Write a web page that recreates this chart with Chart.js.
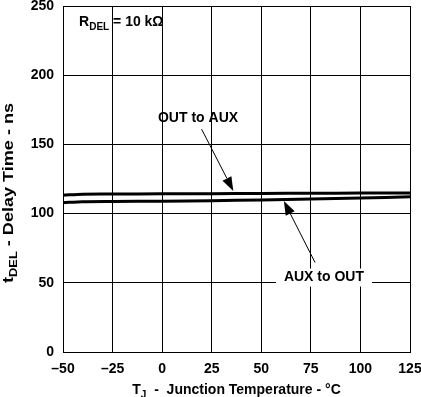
<!DOCTYPE html>
<html>
<head>
<meta charset="utf-8">
<script src="https://cdn.jsdelivr.net/npm/chart.js@4.4.0/dist/chart.umd.min.js"></script>
<style>
html,body{margin:0;padding:0;background:#fff;}
#wrap{width:421px;height:397px;position:relative;}
</style>
</head>
<body>
<div id="wrap"><canvas id="c" width="421" height="397"></canvas></div>
<script>
// ---- data ----
const temps = [-50, -40, -25, 0, 25, 50, 75, 100, 125];
const outToAux = [113.3, 114.0, 114.1, 114.3, 114.4, 114.6, 114.7, 114.8, 114.9];
const auxToOut = [107.9, 108.6, 108.8, 109.0, 109.3, 109.9, 110.6, 111.2, 112.1];
const xTickValues = [-50, -25, 0, 25, 50, 75, 100, 125];
const xTickLabels = ['\u201350', '\u201325', '0', '25', '50', '75', '100', '125'];
const yTickValues = [0, 50, 100, 150, 200, 250];
const yTickLabels = ['0', '50', '100', '150', '200', '250'];
const seriesNames = ['OUT to AUX', 'AUX to OUT'];
// annotation anchors in data units: [labelX, labelY, arrowFromX, arrowFromY, arrowToX, arrowToY]
const outToAuxNote = [18.1, 169, 19.9, 161, 35.9, 116.4];
const auxToOutNote = [81.6, 53.8, 77.1, 64.7, 61.4, 109.1];
const rdelNote = [-41.9, 239.4];

const FONT = '"Liberation Sans", Arial, Helvetica, sans-serif';

function arrow(ctx, x1, y1, x2, y2) {
  const ang = Math.atan2(y2 - y1, x2 - x1);
  const hl = 14, hw = 5;
  const bx = x2 - hl * Math.cos(ang), by = y2 - hl * Math.sin(ang);
  ctx.save();
  ctx.strokeStyle = '#000'; ctx.fillStyle = '#000'; ctx.lineWidth = 1;
  ctx.beginPath(); ctx.moveTo(x1, y1); ctx.lineTo(bx, by); ctx.stroke();
  ctx.beginPath();
  ctx.moveTo(x2, y2);
  ctx.lineTo(bx + hw * Math.sin(ang), by - hw * Math.cos(ang));
  ctx.lineTo(bx - hw * Math.sin(ang), by + hw * Math.cos(ang));
  ctx.closePath(); ctx.fill();
  ctx.restore();
}

function measureSub(ctx, parts) {
  const main = 'bold 14px ' + FONT, sub = 'bold 10px ' + FONT;
  let w = 0;
  parts.forEach(p => { ctx.font = p[1] ? sub : main; w += ctx.measureText(p[0]).width; });
  return w;
}

function drawSubText(ctx, parts, x, y, align) {
  const main = 'bold 14px ' + FONT, sub = 'bold 10px ' + FONT;
  const w = measureSub(ctx, parts);
  let cx = align === 'center' ? x - w / 2 : x;
  ctx.textAlign = 'left'; ctx.textBaseline = 'alphabetic';
  parts.forEach(p => {
    ctx.font = p[1] ? sub : main;
    ctx.fillText(p[0], cx, p[1] ? y + 4 : y);
    cx += ctx.measureText(p[0]).width;
  });
}

const notesPlugin = {
  id: 'notes',
  afterDatasetsDraw(chart) {
    const ctx = chart.ctx, xs = chart.scales.x, ys = chart.scales.y;
    ctx.save();
    ctx.fillStyle = '#000';
    ctx.font = 'bold 14px ' + FONT;
    const lx2 = xs.getPixelForValue(auxToOutNote[0]), ly2 = ys.getPixelForValue(auxToOutNote[1]);
    const w2 = ctx.measureText(seriesNames[1]).width;
    ctx.fillStyle = '#fff';
    ctx.fillRect(lx2 - w2 / 2 - 8, ly2 - 9, w2 + 16, 18);
    ctx.fillStyle = '#000';
    ctx.textAlign = 'center'; ctx.textBaseline = 'middle';
    ctx.fillText(seriesNames[1], lx2, ly2);
    const lx1 = xs.getPixelForValue(outToAuxNote[0]), ly1 = ys.getPixelForValue(outToAuxNote[1]);
    ctx.fillText(seriesNames[0], lx1, ly1);
    arrow(ctx, xs.getPixelForValue(outToAuxNote[2]), ys.getPixelForValue(outToAuxNote[3]),
               xs.getPixelForValue(outToAuxNote[4]), ys.getPixelForValue(outToAuxNote[5]));
    arrow(ctx, xs.getPixelForValue(auxToOutNote[2]), ys.getPixelForValue(auxToOutNote[3]),
               xs.getPixelForValue(auxToOutNote[4]), ys.getPixelForValue(auxToOutNote[5]));
    drawSubText(ctx, [['R', false], ['DEL', true], [' = 10 k\u03A9', false]],
      xs.getPixelForValue(rdelNote[0]), ys.getPixelForValue(rdelNote[1]) + 5, 'left');
    const ca = chart.chartArea;
    drawSubText(ctx, [['T', false], ['J', true], ['  -  Junction Temperature - \u00B0C', false]],
      (ca.left + ca.right) / 2, 394, 'center');
    const yParts = [['t', false], ['DEL', true], [' - Delay Time - ns', false]];
    const yw = measureSub(ctx, yParts);
    ctx.save();
    ctx.translate(12.5, 193);
    ctx.rotate(-Math.PI / 2);
    ctx.scale(180 / yw, 1);
    drawSubText(ctx, yParts, 0, 0, 'center');
    ctx.restore();
    ctx.restore();
  }
};

new Chart(document.getElementById('c'), {
  type: 'line',
  data: {
    datasets: [
      { label: seriesNames[0], data: temps.map((t, i) => ({x: t, y: outToAux[i]})),
        borderColor: '#000', borderWidth: 3, pointRadius: 0, tension: 0.3, fill: false },
      { label: seriesNames[1], data: temps.map((t, i) => ({x: t, y: auxToOut[i]})),
        borderColor: '#000', borderWidth: 3, pointRadius: 0, tension: 0.3, fill: false }
    ]
  },
  options: {
    responsive: false,
    animation: false,
    devicePixelRatio: 1,
    layout: { padding: { left: 0, right: 11, top: 6, bottom: 0 } },
    plugins: { legend: { display: false }, tooltip: { enabled: false } },
    scales: {
      x: {
        type: 'linear', min: -50, max: 125,
        afterBuildTicks(s) { s.ticks = xTickValues.map(v => ({value: v})); },
        afterFit(s) { s.height = 45; s.paddingLeft = 0; s.paddingRight = 0; s.paddingTop = 0; s.paddingBottom = 0; },
        grid: { color: '#000', lineWidth: 1, drawTicks: false },
        border: { color: '#000', width: 1 },
        ticks: {
          padding: 9, color: '#000', maxRotation: 0, autoSkip: false,
          font: { family: FONT, size: 14, weight: 'bold' },
          callback(v) { const i = xTickValues.indexOf(v); return i >= 0 ? xTickLabels[i] : ''; }
        }
      },
      y: {
        type: 'linear', min: 0, max: 250,
        afterBuildTicks(s) { s.ticks = yTickValues.map(v => ({value: v})); },
        afterFit(s) { s.width = 63; s.paddingLeft = 0; s.paddingRight = 0; s.paddingTop = 0; s.paddingBottom = 0; },
        grid: { color: '#000', lineWidth: 1, drawTicks: false },
        border: { color: '#000', width: 1 },
        ticks: {
          padding: 9, color: '#000',
          font: { family: FONT, size: 14, weight: 'bold' },
          callback(v) { const i = yTickValues.indexOf(v); return i >= 0 ? yTickLabels[i] : ''; }
        }
      }
    }
  },
  plugins: [notesPlugin]
});
</script>
</body>
</html>
